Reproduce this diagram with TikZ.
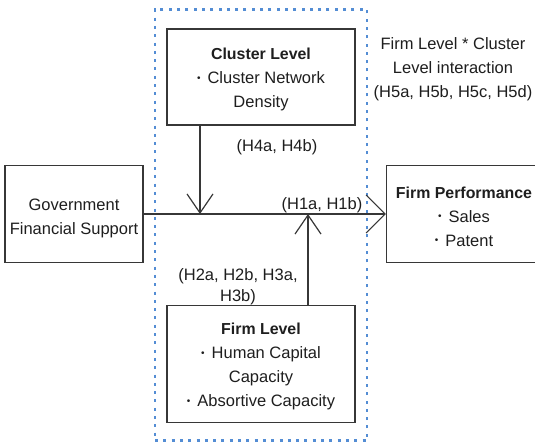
\documentclass[tikz,border=0pt]{standalone}
\usepackage{fontspec}
\setmainfont{Liberation Sans}
\usetikzlibrary{arrows.meta}
\definecolor{frameblue}{RGB}{84,141,212}
\definecolor{ink}{RGB}{30,30,30}
\definecolor{edge}{RGB}{55,55,55}
% small list bullet followed by a gap
\newcommand{\bul}{\makebox[3.5pt]{\raisebox{2.3pt}{\fontsize{10}{10}\selectfont •}}\hspace{7pt}}
\newcommand{\hd}[1]{{\fontsize{15.9}{24}\selectfont\bfseries #1}}
\begin{document}
\begin{tikzpicture}[x=1pt,y=-1pt,
  txt/.style={font=\fontsize{16.5}{24}\selectfont, text=ink, align=center, inner sep=0pt},
  box/.style={draw=edge, line width=1.1pt, inner sep=0pt},
  arr/.style={draw=edge, line width=1.2pt, -{Straight Barb[length=19pt,width=26pt]}},
  bigarr/.style={draw=edge, line width=1.2pt, -{Straight Barb[length=19pt,width=38pt]}},
  zone/.style={draw=frameblue, line width=2.4pt, dash pattern=on 3pt off 5.3pt, inner sep=0pt}]
\useasboundingbox (0,0) rectangle (535,443);

% dotted frame around the two moderating levels
\node[zone, minimum width=212, minimum height=431] (levels) at (261,225) {};

% boxes
\node[box, minimum width=138, minimum height=97] (gov) at (74,214) {};
\node[box, minimum width=155, minimum height=97] (perf) at (464,214) {};
\node[box, minimum width=188, minimum height=96] (cluster) at (261,77) {};
\node[box, minimum width=188, minimum height=117] (firm) at (261,364) {};

% box texts
\node[txt] (govtxt) at (74,218) {Government\\Financial Support};
\node[txt] (perftxt) at (464,216.5) {\hd{Firm Performance}\\\bul Sales\\\bul Patent};
\node[txt] (clustertxt) at (261,79.5) {\hd{Cluster Level}\\\bul Cluster Network\\Density};
\node[txt] (firmtxt) at (261,366.5) {\hd{Firm Level}\\\bul Human Capital\\Capacity\\\bul Absortive Capacity};

% hypothesis labels
\node[txt] (h4) at (277,147) {(H4a, H4b)};
\node[txt] (h1) at (322,205) {(H1a, H1b)};
\node[txt, font=\fontsize{16.5}{21}\selectfont] (h23) at (238,286.5) {(H2a, H2b, H3a,\\H3b)};
\node[txt] (h5) at (453,69.5) {Firm Level * Cluster\\Level interaction\\(H5a, H5b, H5c, H5d)};

% connectors
\coordinate (m1) at (200,214);
\coordinate (m2) at (308,214);
\draw[bigarr] (gov.east) -- (perf.west);
\draw[arr] (cluster.south -| m1) -- (m1);
\draw[arr] (firm.north -| m2) -- (m2);
\end{tikzpicture}
\end{document}
